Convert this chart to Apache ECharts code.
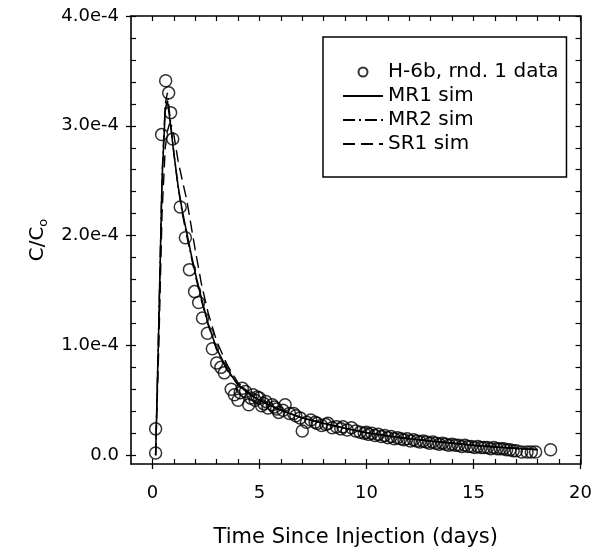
<!DOCTYPE html>
<html>
<head>
<meta charset="utf-8">
<script src="https://cdn.jsdelivr.net/npm/echarts@6/dist/echarts.min.js"></script>
<style>
  html, body { margin: 0; padding: 0; background: #fff; }
  #main { width: 595px; height: 554px; }
</style>
</head>
<body>
<div id="main"></div>
<script>
// concentrations are in units of 1e-4 (C/Co)
var obsDays = [0.15, 0.15, 0.43, 0.62, 0.76, 0.85, 0.95, 1.3, 1.54, 1.73, 1.97, 2.16, 2.34, 2.57, 2.8,
  3.0, 3.2, 3.36, 3.68, 3.83, 4.0, 4.1, 4.2, 4.35, 4.5, 4.6, 4.7, 4.8, 4.9, 5.0, 5.1, 5.2, 5.3, 5.4,
  5.6, 5.7, 5.8, 5.9, 6.1, 6.2, 6.4, 6.6, 6.7, 6.9, 7.0, 7.2, 7.4, 7.6, 7.7, 7.9, 8.1, 8.2, 8.4, 8.6,
  8.8, 8.9, 9.1, 9.3, 9.5, 9.7, 9.9, 10.0, 10.1, 10.25, 10.4, 10.55, 10.7, 10.85, 11.0, 11.15, 11.3,
  11.45, 11.6, 11.75, 11.9, 12.05, 12.2, 12.35, 12.5, 12.65, 12.8, 12.95, 13.1, 13.25, 13.4, 13.55,
  13.7, 13.85, 14.0, 14.15, 14.3, 14.45, 14.6, 14.75, 14.9, 15.05, 15.2, 15.35, 15.5, 15.65, 15.8,
  15.95, 16.1, 16.25, 16.4, 16.55, 16.7, 16.85, 17.0, 17.25, 17.5, 17.7, 17.9, 18.6];
var obsConc = [0.02, 0.24, 2.92, 3.41, 3.30, 3.12, 2.88, 2.26, 1.98, 1.69, 1.49, 1.39, 1.25, 1.11, 0.97,
  0.84, 0.80, 0.75, 0.60, 0.55, 0.50, 0.57, 0.61, 0.58, 0.46, 0.52, 0.55, 0.50, 0.53, 0.52, 0.45, 0.47, 0.49, 0.43,
  0.46, 0.44, 0.42, 0.39, 0.41, 0.46, 0.38, 0.38, 0.36, 0.34, 0.22, 0.30, 0.32, 0.30, 0.29, 0.27, 0.28, 0.29, 0.25, 0.26,
  0.24, 0.26, 0.23, 0.25, 0.22, 0.21, 0.20, 0.21, 0.19, 0.20, 0.18, 0.19, 0.17, 0.18, 0.16, 0.17, 0.15,
  0.16, 0.15, 0.14, 0.15, 0.13, 0.14, 0.13, 0.12, 0.13, 0.12, 0.11, 0.12, 0.11, 0.10, 0.11,
  0.10, 0.09, 0.10, 0.09, 0.09, 0.08, 0.09, 0.08, 0.08, 0.07, 0.08, 0.07, 0.07, 0.07, 0.06,
  0.07, 0.06, 0.06, 0.06, 0.05, 0.05, 0.04, 0.04, 0.03, 0.03, 0.03, 0.03, 0.05];

var simDays = [0.15, 0.3, 0.45, 0.6, 0.7, 0.8, 0.9, 1.0, 1.2, 1.4, 1.6, 1.8, 2.0, 2.3, 2.6, 3.0, 3.5,
  4.0, 4.5, 5, 6, 7, 8, 9, 10, 11, 12, 13, 14, 15, 16, 17, 18];
var mr1Conc = [0, 1.2, 2.5, 3.15, 3.23, 3.08, 2.92, 2.75, 2.45, 2.22, 2.03, 1.84, 1.66, 1.42, 1.2, 0.97, 0.78,
  0.64, 0.56, 0.5, 0.41, 0.34, 0.29, 0.245, 0.205, 0.175, 0.15, 0.13, 0.11, 0.09, 0.075, 0.062, 0.05];
var mr2Conc = [0, 1.25, 2.55, 3.2, 3.3, 3.12, 2.94, 2.76, 2.44, 2.2, 2.0, 1.82, 1.64, 1.4, 1.19, 0.96, 0.77,
  0.64, 0.56, 0.5, 0.41, 0.34, 0.29, 0.245, 0.205, 0.175, 0.15, 0.13, 0.11, 0.092, 0.077, 0.063, 0.052];
var sr1Conc = [0, 1.0, 2.2, 2.8, 2.95, 3.02, 3.0, 2.92, 2.68, 2.5, 2.33, 2.1, 1.87, 1.55, 1.3, 1.04, 0.82,
  0.66, 0.57, 0.5, 0.41, 0.34, 0.29, 0.245, 0.205, 0.175, 0.15, 0.13, 0.11, 0.09, 0.075, 0.062, 0.05];

var xMajor = [0, 5, 10, 15, 20];
var yMajor = [0, 1e-4, 2e-4, 3e-4, 4e-4];

var FONT = 'DejaVu Sans';

function pairs(xs, ys) {
  var out = [];
  for (var i = 0; i < xs.length; i++) out.push([xs[i], ys[i] * 1e-4]);
  return out;
}

var xMinor = [];
for (var i = 0; i <= 20; i++) xMinor.push(i);
var yMinor = [];
for (var j = 0; j <= 20; j++) yMinor.push(j * 0.2e-4);

var axisLine = { show: true, onZero: false, lineStyle: { color: '#000', width: 1.6 } };
var noLine = { show: false, onZero: false };
// hide the dot that ECharts puts in the middle of line legend icons
var noDot = { opacity: 0 };

var chart = echarts.init(document.getElementById('main'));
var option = {
  backgroundColor: '#fff',
  animation: false,
  grid: { left: 131, right: 12, top: 16, bottom: 90 },
  legend: {
    orient: 'vertical',
    left: 323,
    top: 37,
    padding: [24, 8, 22, 19],
    borderColor: '#000',
    borderWidth: 1.5,
    itemWidth: 40,
    itemHeight: 9,
    itemGap: 2,
    textStyle: { fontFamily: FONT, fontSize: 20, color: '#000', lineHeight: 22 },
    data: [
      { name: 'H-6b, rnd. 1 data' },
      { name: 'MR1 sim', itemStyle: noDot },
      { name: 'MR2 sim', itemStyle: noDot },
      { name: 'SR1 sim', itemStyle: noDot }
    ]
  },
  xAxis: [
    {
      type: 'value', position: 'bottom', min: -1, max: 20,
      axisLine: axisLine,
      splitLine: { show: false },
      axisTick: { show: true, inside: false, length: 5, customValues: xMajor, lineStyle: { color: '#000', width: 1.3 } },
      axisLabel: { customValues: xMajor, margin: 20, fontFamily: FONT, fontSize: 18, color: '#000' },
      name: 'Time Since Injection (days)',
      nameLocation: 'middle',
      nameGap: 63,
      nameTextStyle: { fontFamily: FONT, fontSize: 21, color: '#000' }
    },
    {
      type: 'value', position: 'bottom', min: -1, max: 20,
      axisLine: noLine, splitLine: { show: false }, axisLabel: { show: false },
      axisTick: { show: true, inside: true, length: 5, customValues: xMinor, lineStyle: { color: '#000', width: 1.2 } }
    },
    {
      type: 'value', position: 'top', min: -1, max: 20,
      axisLine: axisLine, splitLine: { show: false }, axisLabel: { show: false },
      axisTick: { show: true, inside: true, length: 5, customValues: xMinor, lineStyle: { color: '#000', width: 1.2 } }
    }
  ],
  yAxis: [
    {
      type: 'value', position: 'left', min: -0.08e-4, max: 4e-4,
      axisLine: axisLine,
      splitLine: { show: false },
      axisTick: { show: true, inside: false, length: 5, customValues: yMajor, lineStyle: { color: '#000', width: 1.3 } },
      axisLabel: {
        customValues: yMajor, margin: 12, fontFamily: FONT, fontSize: 18, color: '#000',
        formatter: function (v) {
          if (Math.abs(v) < 1e-9) return '0.0';
          return (v / 1e-4).toFixed(1) + 'e-4';
        }
      },
      name: '{m|C/C}{s|o}',
      nameLocation: 'middle',
      nameRotate: 90,
      nameGap: 80,
      nameTextStyle: {
        rich: {
          m: { fontFamily: FONT, fontSize: 20, color: '#000' },
          s: { fontFamily: FONT, fontSize: 13, color: '#000', padding: [13, 0, 0, 0] }
        }
      }
    },
    {
      type: 'value', position: 'left', min: -0.08e-4, max: 4e-4,
      axisLine: noLine, splitLine: { show: false }, axisLabel: { show: false },
      axisTick: { show: true, inside: true, length: 5, customValues: yMinor, lineStyle: { color: '#000', width: 1.2 } }
    },
    {
      type: 'value', position: 'right', min: -0.08e-4, max: 4e-4,
      axisLine: axisLine, splitLine: { show: false }, axisLabel: { show: false },
      axisTick: { show: true, inside: true, length: 5, customValues: yMinor, lineStyle: { color: '#000', width: 1.2 } }
    }
  ],
  series: [
    {
      name: 'H-6b, rnd. 1 data',
      type: 'scatter',
      symbol: 'circle',
      symbolSize: 12,
      itemStyle: { color: 'rgba(0,0,0,0)', borderColor: '#000', borderWidth: 1.5 },
      data: pairs(obsDays, obsConc)
    },
    {
      name: 'MR1 sim', type: 'line', symbol: 'none', showSymbol: false,
      color: '#000', lineStyle: { color: '#000', width: 1.6, type: 'solid' },
      data: pairs(simDays, mr1Conc)
    },
    {
      name: 'MR2 sim', type: 'line', symbol: 'none', showSymbol: false,
      color: '#000', lineStyle: { color: '#000', width: 1.4, type: [12, 4, 2, 4] },
      data: pairs(simDays, mr2Conc)
    },
    {
      name: 'SR1 sim', type: 'line', symbol: 'none', showSymbol: false,
      color: '#000', lineStyle: { color: '#000', width: 1.4, type: [12, 6] },
      data: pairs(simDays, sr1Conc)
    }
  ]
};
chart.setOption(option);
</script>
</body>
</html>
